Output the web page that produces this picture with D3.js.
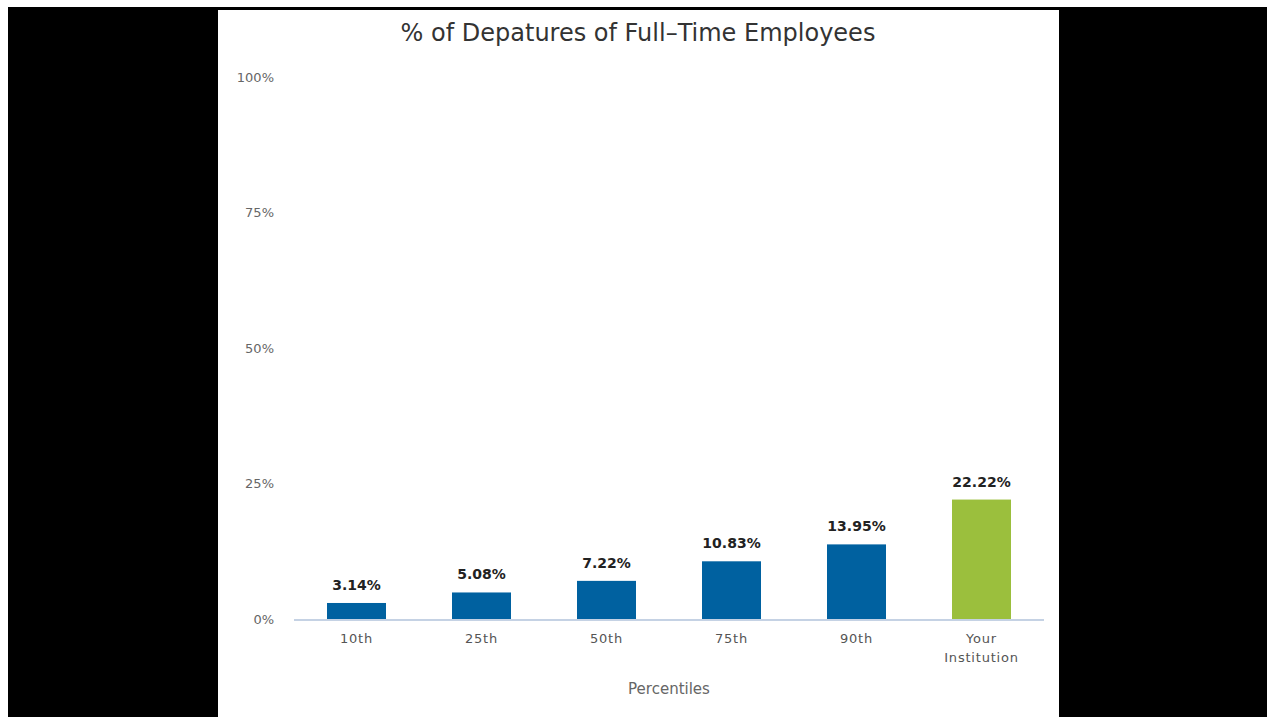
<!DOCTYPE html>
<html>
<head>
<meta charset="utf-8">
<script src="https://cdn.jsdelivr.net/npm/d3@7"></script>
<style>
  html, body { margin: 0; padding: 0; background: #fff; }
  svg { display: block; }
</style>
</head>
<body>
<svg id="chart" width="1267" height="717"></svg>
<script>
// Departure rates by percentile, plus the institution's own rate
const categories = ["10th", "25th", "50th", "75th", "90th", "Your Institution"];
const values = [3.14, 5.08, 7.22, 10.83, 13.95, 22.22];
const highlight = [false, false, false, false, false, true];
const yTicks = [0, 25, 50, 75, 100];
const yTickLabels = ["0%", "25%", "50%", "75%", "100%"];
const chartTitle = "% of Depatures of Full\u2013Time Employees";
const xAxisTitle = "Percentiles";

const W = 1267, H = 717;
const svg = d3.select("#chart");
const font = "'DejaVu Sans', 'Open Sans', sans-serif";

// Surrounding frame and white chart panel
svg.append("rect").attr("x", 0).attr("y", 0).attr("width", W).attr("height", H).attr("fill", "#fff");
svg.append("rect").attr("x", 8).attr("y", 7).attr("width", W - 8).attr("height", H - 7).attr("fill", "#000");
svg.append("rect").attr("x", 218).attr("y", 10).attr("width", 841).attr("height", H - 10).attr("fill", "#fff");

const plot = { left: 294, right: 1044, top: 78, bottom: 620 };

const x = d3.scaleBand()
  .domain(categories)
  .range([plot.left, plot.right])
  .paddingInner(0.528)
  .paddingOuter(0.264);

const y = d3.scaleLinear()
  .domain([0, 100])
  .range([plot.bottom, plot.top]);

// Title
svg.append("text")
  .attr("x", 638).attr("y", 41)
  .attr("text-anchor", "middle")
  .attr("font-family", font)
  .attr("font-size", 24)
  .attr("fill", "#333")
  .text(chartTitle);

// Y axis labels (no axis line or gridlines)
const yAxis = d3.axisLeft(y)
  .tickValues(yTicks)
  .tickSize(0)
  .tickPadding(0)
  .tickFormat((d, i) => yTickLabels[i]);

const yg = svg.append("g")
  .attr("transform", `translate(274,-1)`)
  .call(yAxis);
yg.select(".domain").remove();
yg.selectAll("text")
  .attr("font-family", font)
  .attr("font-size", 13)
  .attr("fill", "#666")
  .attr("dy", "0.32em");

// Bars
svg.append("g").selectAll("rect")
  .data(categories)
  .join("rect")
  .attr("x", d => x(d))
  .attr("width", x.bandwidth())
  .attr("y", (d, i) => y(values[i]))
  .attr("height", (d, i) => y(0) - y(values[i]))
  .attr("fill", (d, i) => highlight[i] ? "#9bbf3d" : "#0061a0");

// Baseline
svg.append("line")
  .attr("x1", plot.left).attr("x2", plot.right)
  .attr("y1", plot.bottom).attr("y2", plot.bottom)
  .attr("stroke", "#c5d2e4")
  .attr("stroke-width", 2);

// Value labels
svg.append("g").selectAll("text")
  .data(categories)
  .join("text")
  .attr("x", d => x(d) + x.bandwidth() / 2)
  .attr("y", (d, i) => y(values[i]) - 13)
  .attr("text-anchor", "middle")
  .attr("font-family", font)
  .attr("font-size", 14)
  .attr("font-weight", "bold")
  .attr("fill", "#222")
  .text((d, i) => values[i].toFixed(2) + "%");

// X axis category labels
const xAxis = d3.axisBottom(x).tickSize(0).tickPadding(0);
const xg = svg.append("g")
  .attr("transform", `translate(0,${plot.bottom})`)
  .call(xAxis);
xg.select(".domain").remove();
xg.selectAll("text").each(function(d) {
  const t = d3.select(this);
  t.text(null)
    .attr("y", 0)
    .attr("dy", null)
    .attr("font-family", font)
    .attr("font-size", 13)
    .attr("fill", "#555")
    .attr("letter-spacing", "0.8px");
  const words = d.split(" ");
  words.forEach((w, k) => {
    t.append("tspan")
      .attr("x", 0)
      .attr("y", 23 + k * 19)
      .text(w);
  });
});

// X axis title
svg.append("text")
  .attr("x", 669).attr("y", 694)
  .attr("text-anchor", "middle")
  .attr("font-family", font)
  .attr("font-size", 15)
  .attr("fill", "#666")
  .text(xAxisTitle);
</script>
</body>
</html>
